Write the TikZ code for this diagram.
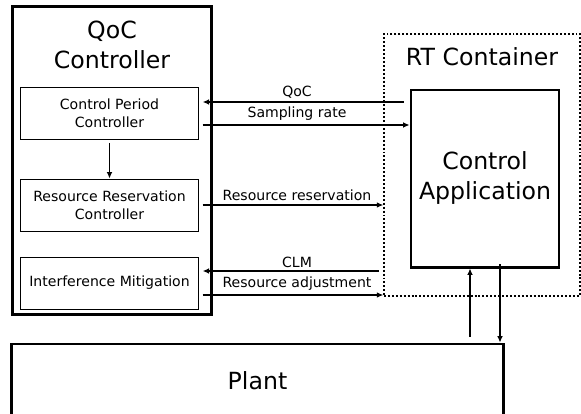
\documentclass[tikz,border=0pt]{standalone}
\usepackage{fontspec}
\setmainfont{DejaVu Sans}
\usetikzlibrary{arrows.meta}
\begin{document}
\begin{tikzpicture}[x=0.025cm,y=-0.025cm,
    bigbox/.style={draw,line width=2.1pt,inner sep=0pt},
    subbox/.style={draw,line width=0.7pt,inner sep=0pt,minimum width=4.425cm,minimum height=1.3cm,align=center,font=\fontsize{10}{13}\selectfont},
    bigtext/.style={inner sep=0pt,align=center,font=\fontsize{16.8}{21}\selectfont},
    lbl/.style={inner sep=0pt,font=\fontsize{10}{12}\selectfont},
    arr/.style={line width=0.75pt,-{Latex[length=4.5pt,width=4pt]}}]
    \clip (0,0) rectangle (581,414);

    \node[bigbox,minimum width=4.95cm,minimum height=7.675cm] (qoc) at (112,160.5) {};
    \node[bigtext] (qoctitle) at (112,45) {QoC\\Controller};

    \node[subbox] (cpc) at (109.5,113.5) {Control Period\\Controller};
    \node[subbox] (rrc) at (109.5,205) {Resource Reservation\\Controller};
    \node[subbox] (im) at (109.5,283) {Interference Mitigation};

    \draw[arr] (cpc.south) ++(0,3) coordinate (cpcs) (cpcs) -- (rrc.north);

    \node[draw,line width=1.1pt,dash pattern=on 1.4pt off 1.4pt,inner sep=0pt,minimum width=4.9cm,minimum height=6.55cm] (rt) at (482,165) {};
    \node[bigtext] (rttitle) at (482,57) {RT Container};
    \node[bigbox,minimum width=3.7cm,minimum height=4.425cm] (app) at (485,178.5) {};
    \node[bigtext] (apptext) at (485,178) {Control\\Application};

    \node[bigbox,minimum width=12.275cm,minimum height=1.85cm] (plant) at (257.5,381) {};
    \node[bigtext] (planttext) at (257.5,381) {Plant};

    \draw[arr] ([xshift=-4]app.west |- 0,102) -- ([xshift=3]cpc.east |- 0,102);
    \node[lbl] (qoclbl) at (297,92) {QoC};
    \draw[arr] ([xshift=3]cpc.east |- 0,125) -- (app.west |- 0,125);
    \node[lbl] (srlbl) at (297,114) {Sampling rate};

    \draw[arr] ([xshift=3]rrc.east |- 0,205) -- (rt.west |- 0,205);
    \node[lbl] (rrlbl) at (297,195) {Resource reservation};

    \draw[arr] ([xshift=-3]rt.west |- 0,271) -- ([xshift=3]im.east |- 0,271);
    \node[lbl] (clmlbl) at (297,262) {CLM};
    \draw[arr] ([xshift=3]im.east |- 0,295) -- (rt.west |- 0,295);
    \node[lbl] (ralbl) at (297,284) {Resource adjustment};

    \draw[arr] ([yshift=4]plant.north -| 470,0) -- (app.south -| 470,0);
    \draw[arr] ([yshift=3]app.south -| 500,0) -- (plant.north -| 500,0);

    \end{tikzpicture}
\end{document}
